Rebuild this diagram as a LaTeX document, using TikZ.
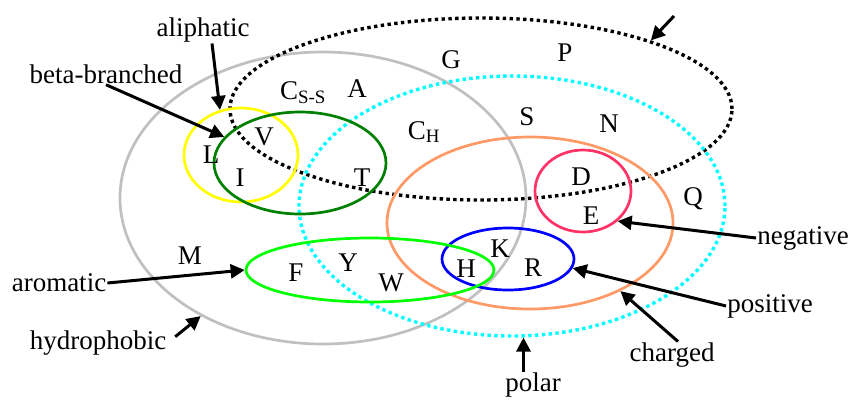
\documentclass[tikz,border=0pt]{standalone}
\usepackage{fontspec}
\setmainfont{Liberation Serif}
\usetikzlibrary{shapes.geometric,arrows.meta}

\begin{document}
\begin{tikzpicture}[x=1bp, y=-1bp,
    set/.style={ellipse, draw, inner sep=0pt, line width=2.7bp},
    dotset/.style={set, line width=3.4bp, dash pattern=on 3.4bp off 3.4bp},
    lbl/.style={inner sep=1bp, font=\fontsize{27bp}{32bp}\selectfont},
    res/.style={inner sep=0pt, font=\fontsize{27bp}{32bp}\selectfont},
    arr/.style={-{Triangle[length=14bp,width=14bp]}, line width=3bp}]
  % colors
  \definecolor{hydgray}{RGB}{192,192,192}
  \definecolor{polcyan}{RGB}{0,255,255}
  \definecolor{chgorange}{RGB}{255,153,102}
  \definecolor{negpink}{RGB}{255,51,102}
  \definecolor{posblue}{RGB}{0,0,255}
  \definecolor{arogreen}{RGB}{0,255,0}
  \definecolor{betagreen}{RGB}{0,128,0}
  \definecolor{aliyellow}{RGB}{255,255,0}

  \useasboundingbox (0,0) rectangle (855,399);

  % sets
  \node[set, hydgray, minimum width=406bp, minimum height=292bp] (hydro) at (323,198) {};
  \node[dotset, black, minimum width=502bp, minimum height=182bp] (small) at (481,109) {};
  \node[dotset, polcyan, minimum width=426bp, minimum height=260bp] (polar) at (512,206) {};
  \node[set, chgorange, minimum width=286bp, minimum height=172bp] (charged) at (530,223) {};
  \node[set, negpink, minimum width=96bp, minimum height=82bp] (neg) at (583,191) {};
  \node[set, posblue, minimum width=132bp, minimum height=62bp] (pos) at (508,259) {};
  \node[set, arogreen, minimum width=248bp, minimum height=64bp] (aro) at (370,270) {};
  \node[set, aliyellow, minimum width=114bp, minimum height=94bp] (ali) at (241,155) {};
  \node[set, betagreen, minimum width=172bp, minimum height=102bp] (beta) at (300,163) {};

  % residues
  \node[res] (rC) at (303,93) {C\textsubscript{S-S}};
  \node[res] (rA) at (357,89) {A};
  \node[res] (rL) at (211,155) {L};
  \node[res] (rV) at (264,137) {V};
  \node[res] (rI) at (240,178) {I};
  \node[res] (rT) at (362,178) {T};
  \node[res] (rCH) at (424,132) {C\textsubscript{H}};
  \node[res] (rG) at (451,60) {G};
  \node[res] (rP) at (565,53) {P};
  \node[res] (rS) at (527,117) {S};
  \node[res] (rN) at (609,124) {N};
  \node[res] (rD) at (581,177) {D};
  \node[res] (rE) at (591,216) {E};
  \node[res] (rQ) at (693,199) {Q};
  \node[res] (rK) at (500,249) {K};
  \node[res] (rH) at (466,269) {H};
  \node[res] (rR) at (533,268) {R};
  \node[res] (rM) at (190,256) {M};
  \node[res] (rF) at (296,273) {F};
  \node[res] (rY) at (348,263) {Y};
  \node[res] (rW) at (391,283) {W};

  % labels
  \node[lbl] (alilbl) at (203,30) {aliphatic};
  \node[lbl] (betalbl) at (106,74) {beta-branched};
  \node[lbl] (arolbl) at (59,283) {aromatic};
  \node[lbl] (hydlbl) at (98,343) {hydrophobic};
  \node[lbl] (neglbl) at (803,238) {negative};
  \node[lbl] (poslbl) at (770,306) {positive};
  \node[lbl] (chglbl) at (672,355) {charged};
  \node[lbl] (pollbl) at (533,385) {polar};
  \coordinate (smalltail) at (674,16);

  % arrows
  \draw[arr] ([xshift=9bp]alilbl.south) -- (ali.115);
  \draw[arr] (betalbl.south) -- (beta.161);
  \draw[arr] (arolbl.east) -- (aro.west);
  \draw[arr, shorten <=10bp] (hydlbl.east) -- (hydro.224);
  \draw[arr] (smalltail) -- (small.22);
  \draw[arr] (neglbl.west) -- (neg.-41);
  \draw[arr] (poslbl.west) -- (pos.-8);
  \draw[arr] ([xshift=6bp]chglbl.north) -- (charged.-37);
  \draw[arr] (polar.-85 |- pollbl.north) -- (polar.-85);
\end{tikzpicture}
\end{document}
